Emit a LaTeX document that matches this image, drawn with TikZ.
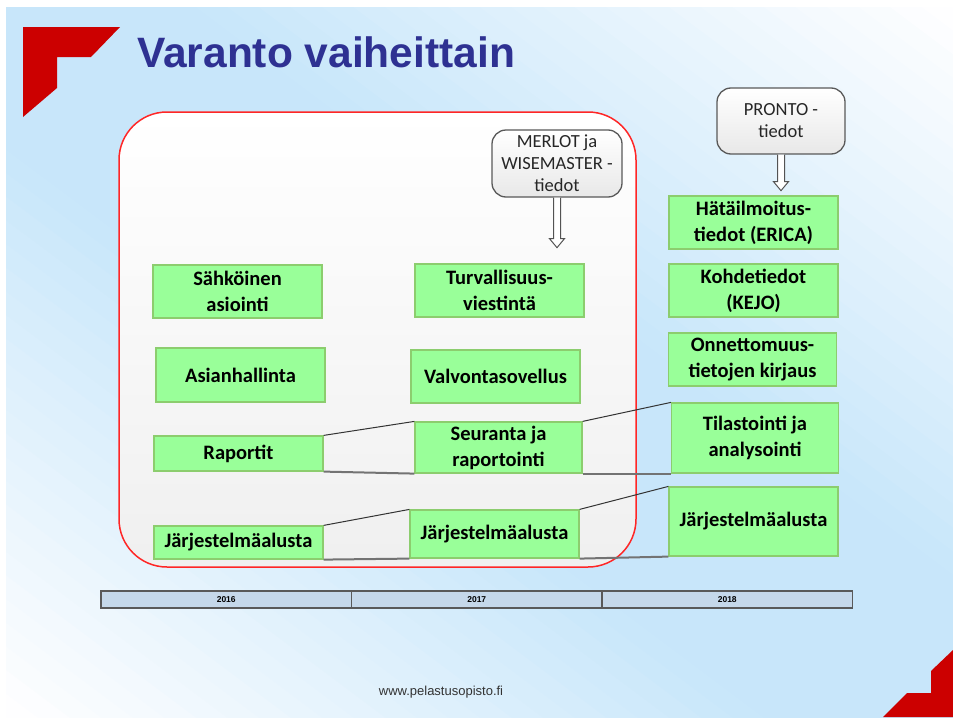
\documentclass[tikz,border=0pt]{standalone}
\usepackage{fontspec}
\setmainfont{Carlito}
\newfontfamily\arialf{Liberation Sans}
\newfontfamily\calf{Carlito}
\usetikzlibrary{calc}
\definecolor{slidebg}{RGB}{200,230,250}
\definecolor{titleblue}{RGB}{46,49,146}
\definecolor{redc}{RGB}{204,0,0}
\definecolor{gfill}{RGB}{153,255,153}
\definecolor{gedge}{RGB}{140,205,110}
\definecolor{barfill}{RGB}{197,216,234}
\begin{document}
\begin{tikzpicture}[x=1pt,y=-1pt,
  gbox/.style={draw=gedge, line width=1.2pt, fill=gfill, inner sep=0pt, align=center,
    font=\calf\bfseries\fontsize{20.5}{26}\selectfont, text=black},
  srcbox/.style={draw=gray!70!black, line width=1.3pt, rounded corners=14pt, top color=white,
    bottom color=gray!18, inner sep=0pt, align=center, font=\calf\fontsize{18.5}{22}\selectfont, text=black!85},
  blockarr/.style={draw=gray!65!black, fill=white, line width=1pt},
  thinl/.style={draw=black!80, line width=1pt},
  thickl/.style={draw=black!55, line width=2pt},
  yearbox/.style={draw=black!65, line width=1.3pt, fill=barfill, inner sep=0pt,
    minimum width=250.5, minimum height=17, font=\arialf\bfseries\fontsize{8.5}{9}\selectfont}
]
\useasboundingbox (0,0) rectangle (953,720);
\fill[white] (0,0) rectangle (953,720);
% diagonal background gradient (blue band from top-left to bottom-right)
\begin{scope}
\clip (6,7) rectangle (953,717);
\foreach \i in {0,...,59} {
  \pgfmathsetmacro{\sa}{-1+\i/30}
  \pgfmathsetmacro{\sb}{-1+(\i+1)/30+0.004}
  \pgfmathsetmacro{\g}{max(0,min(100,125*(1-abs(\sa+1/60))))}
  \fill[slidebg!\g!white] ({6+\sa*947-947},-703) -- ({6+\sa*947+2*947},1427) -- ({6+\sb*947+2*947},1427) -- ({6+\sb*947-947},-703) -- cycle;
}
\end{scope}
% red corners
\fill[redc] (23,27) -- (120,27) -- (91,57) -- (57,57) -- (57,88) -- (23,117) -- cycle;
\fill[redc] (883,717) -- (907,693) -- (931,693) -- (931,671) -- (953,650) -- (953,717) -- cycle;
% title
\node[anchor=base west, inner sep=0pt, text=titleblue, font=\arialf\bfseries\fontsize{42.5}{48}\selectfont] (title) at (137,67) {Varanto vaiheittain};
% red rounded container
\draw[draw=red!85, line width=1.5pt, rounded corners=48pt, top color=white, bottom color=gray!12] (119,112) rectangle (636,567);
% source boxes
\node[srcbox, minimum width=130, minimum height=67] (merlot) at (557,163.5) {MERLOT ja\\WISEMASTER -\\tiedot};
\node[srcbox, minimum width=128, minimum height=66] (pronto) at (781,121) {PRONTO -\\tiedot};
% green boxes
\node[gbox, minimum width=169, minimum height=53] (sahk) at (237.5,291.5) {Sähköinen\\asiointi};
\node[gbox, minimum width=169, minimum height=53] (turv) at (499.5,290.5) {Turvallisuus-\\viestintä};
\node[gbox, minimum width=169, minimum height=54] (asian) at (240.5,375) {Asianhallinta};
\node[gbox, minimum width=169, minimum height=53] (valv) at (495.5,376.5) {Valvontasovellus};
\node[gbox, minimum width=169, minimum height=35] (rap) at (238.5,453.5) {Raportit};
\node[gbox, minimum width=167, minimum height=51] (seur) at (498.5,447.5) {Seuranta ja\\raportointi};
\node[gbox, minimum width=169, minimum height=33] (jl) at (238.5,542.5) {Järjestelmäalusta};
\node[gbox, minimum width=169, minimum height=48] (jm) at (494.5,534) {Järjestelmäalusta};
\node[gbox, minimum width=169, minimum height=53] (erica) at (753.5,222.5) {Hätäilmoitus-\\tiedot (ERICA)};
\node[gbox, minimum width=169, minimum height=53] (kejo) at (753.5,290.5) {Kohdetiedot\\(KEJO)};
\node[gbox, minimum width=168, minimum height=53] (onn) at (752.5,359.5) {Onnettomuus-\\tietojen kirjaus};
\node[gbox, minimum width=167, minimum height=70] (tila) at (755,438) {Tilastointi ja\\analysointi};
\node[gbox, minimum width=169, minimum height=69] (jr) at (753.5,521.5) {Järjestelmäalusta};
% block arrows
\coordinate (mtip) at ($(merlot.south)+(0,50)$);
\draw[blockarr] ($(merlot.south)+(-3.5,0)$) -- ($(mtip)+(-3.5,-9)$) -- ($(mtip)+(-7.5,-9)$) -- (mtip) -- ($(mtip)+(7.5,-9)$) -- ($(mtip)+(3.5,-9)$) -- ($(merlot.south)+(3.5,0)$);
\coordinate (ptip) at ($(pronto.south)+(0,36)$);
\draw[blockarr] ($(pronto.south)+(-3.5,0)$) -- ($(ptip)+(-3.5,-9)$) -- ($(ptip)+(-7.5,-9)$) -- (ptip) -- ($(ptip)+(7.5,-9)$) -- ($(ptip)+(3.5,-9)$) -- ($(pronto.south)+(3.5,0)$);
% connectors
\draw[thinl] (rap.north east) -- (seur.north west);
\draw[thickl] (rap.south east) -- (seur.south west);
\draw[thinl] (seur.north east) -- (tila.north west);
\draw[thickl] (seur.south east) -- (tila.south west);
\draw[thinl] (jl.north east) -- (jm.north west);
\draw[thickl] (jl.south east) -- (jm.south west);
\draw[thinl] (jm.north east) -- (jr.north west);
\draw[thickl] (jm.south east) -- (jr.south west);
% timeline
\node[yearbox] (y16) at (226.25,599.5) {2016};
\node[yearbox] (y17) at (476.75,599.5) {2017};
\node[yearbox] (y18) at (727.25,599.5) {2018};
% footer
\node[anchor=base, inner sep=0pt, font=\arialf\fontsize{13}{15}\selectfont, text=black!80] (footer) at (441,695) {www.pelastusopisto.fi};
\end{tikzpicture}
\end{document}
